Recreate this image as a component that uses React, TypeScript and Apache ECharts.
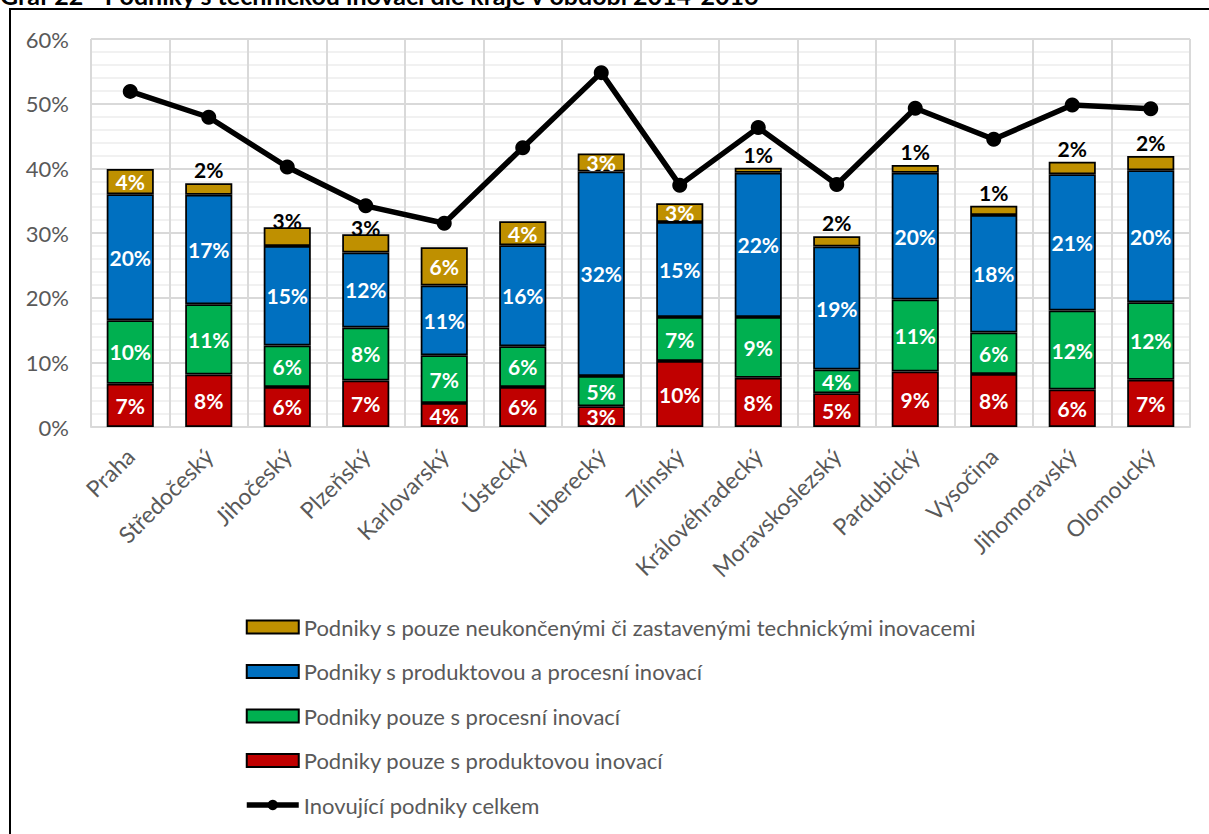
import React, { useEffect, useRef } from "react";
import * as echarts from "echarts";

const categories = [
  "Praha", "Středočeský", "Jihočeský", "Plzeňský", "Karlovarský", "Ústecký", "Liberecký",
  "Zlínský", "Královéhradecký", "Moravskoslezský", "Pardubický", "Vysočina", "Jihomoravský", "Olomoucký",
];
const productOnly = [6.7, 8.1, 6.2, 7.2, 3.7, 6.2, 3.2, 10.2, 7.6, 5.2, 8.6, 8.2, 5.8, 7.3];
const processOnly = [9.8, 10.9, 6.4, 8.2, 7.4, 6.3, 4.7, 6.8, 9.4, 3.7, 11.1, 6.4, 12.2, 12.0];
const productAndProcess = [19.5, 16.9, 15.4, 11.6, 10.8, 15.6, 31.6, 14.7, 22.3, 19.0, 19.6, 18.2, 21.1, 20.4];
const unfinished = [3.9, 1.8, 2.9, 2.8, 5.9, 3.7, 2.8, 2.9, 0.8, 1.6, 1.2, 1.4, 1.9, 2.2];
const totalInnovating = [51.9, 47.9, 40.2, 34.2, 31.5, 43.2, 54.8, 37.4, 46.3, 37.5, 49.3, 44.5, 49.8, 49.2];
// which unfinished labels sit inside the bar (others sit above it)
const unfinishedInside = [true, false, false, false, true, true, true, true, false, false, false, false, false, false];
const unfinishedOverlap = [false, false, true, true, false, false, false, false, false, false, false, false, false, false];

const seriesNames = [
  "Podniky s pouze neukončenými či zastavenými technickými inovacemi",
  "Podniky s produktovou a procesní inovací",
  "Podniky pouze s procesní inovací",
  "Podniky pouze s produktovou inovací",
  "Inovující podniky celkem",
];

const FONT = "Lato, 'Open Sans', sans-serif";

export default function App() {
  const ref = useRef<HTMLDivElement>(null);
  useEffect(() => {
    if (!ref.current) return;
    const chart = echarts.init(ref.current, undefined, { renderer: "svg" });
    const fmt = (p: any) => Math.round(p.value) + "%";
    const insideLabel = {
      show: true,
      position: "inside",
      color: "#fff",
      fontWeight: "bold",
      fontSize: 21,
      fontFamily: FONT,
      formatter: fmt,
    };
    const itemBase = (color: string) => ({ color, borderColor: "#000", borderWidth: 1.75 });
    const barCommon = {
      type: "bar",
      stack: "total",
      barCategoryGap: "40%",
    };
    chart.setOption({
      animation: false,
      textStyle: { fontFamily: FONT },
      grid: { left: 91, right: 19, top: 39, bottom: 407, containLabel: false },
      legend: {
        orient: "vertical",
        left: 239,
        top: 611,
        itemWidth: 52,
        itemHeight: 13,
        itemGap: 22.5,
        data: seriesNames.map((n, i) =>
          i === 4
            ? { name: n, lineStyle: { width: 5.5, color: "#000" }, itemStyle: { color: "#000" } }
            : { name: n, icon: "rect" }
        ),
        textStyle: { fontSize: 22, color: "#595959", fontFamily: FONT, lineHeight: 22 },
      },
      xAxis: {
        type: "category",
        data: categories,
        axisTick: { show: false },
        axisLine: { lineStyle: { color: "#d9d9d9", width: 2 } },
        splitLine: { show: true, interval: 0, lineStyle: { color: "#d9d9d9", width: 2 } },
        axisLabel: {
          interval: 0,
          rotate: 45,
          color: "#595959",
          fontSize: 23,
          fontFamily: FONT,
          margin: 25,
        },
      },
      yAxis: {
        type: "value",
        min: 0,
        max: 60,
        interval: 10,
        axisLine: { show: false },
        axisTick: { show: false },
        axisLabel: { formatter: "{value}%", color: "#595959", fontSize: 22, fontFamily: FONT, margin: 22 },
        splitLine: { lineStyle: { color: "#d9d9d9", width: 2 } },
        minorTick: { show: false, splitNumber: 5 },
        minorSplitLine: { show: true, lineStyle: { color: "#ececec", width: 1.5 } },
      },
      graphic: [
        {
          type: "rect",
          shape: { x: 10, y: 9, width: 1400, height: 1000 },
          style: { fill: "none", stroke: "#000", lineWidth: 2 },
          silent: true,
        },
        {
          type: "text",
          x: 0,
          y: 7,
          style: {
            text: "Graf 22 - Podniky s technickou inovací dle kraje v období 2014-2016",
            font: "bold 25px Lato, sans-serif",
            fill: "#000",
            verticalAlign: "bottom",
          },
          silent: true,
        },
      ],
      series: [
        {
          ...barCommon,
          name: seriesNames[3],
          data: productOnly,
          itemStyle: itemBase("#C00000"),
          label: insideLabel,
        },
        {
          ...barCommon,
          name: seriesNames[2],
          data: processOnly,
          itemStyle: itemBase("#00B050"),
          label: insideLabel,
        },
        {
          ...barCommon,
          name: seriesNames[1],
          data: productAndProcess,
          itemStyle: itemBase("#0070C0"),
          label: insideLabel,
        },
        {
          ...barCommon,
          name: seriesNames[0],
          data: unfinished.map((v, i) => ({
            value: v,
            label: unfinishedInside[i]
              ? { position: "inside", color: "#fff" }
              : { position: "top", color: "#000", distance: unfinishedOverlap[i] ? -4 : 3 },
          })),
          itemStyle: itemBase("#BF9000"),
          label: { ...insideLabel },
        },
        {
          type: "line",
          name: seriesNames[4],
          data: totalInnovating,
          symbol: "circle",
          symbolSize: 15,
          z: 10,
          lineStyle: { color: "#000", width: 5.5 },
          itemStyle: { color: "#000" },
        },
      ],
    });
    return () => chart.dispose();
  }, []);
  return (
    <div
      ref={ref}
      style={{ position: "absolute", left: 0, top: 0, width: 1209, height: 834, background: "#fff" }}
    />
  );
}
